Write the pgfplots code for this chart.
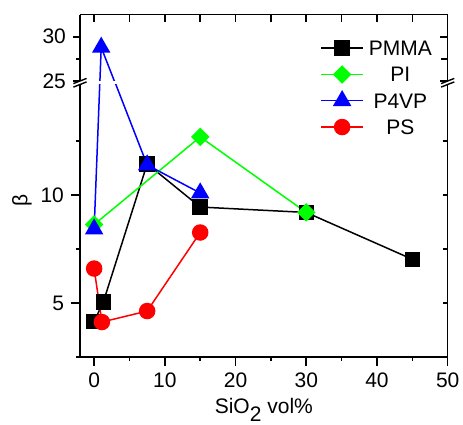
\documentclass[border=0pt]{standalone}
\usepackage{fontspec}
\setmainfont{Liberation Sans}
\usepackage{pgfplots}
\usepackage{pgfplotstable}
\pgfplotsset{compat=1.18}

\definecolor{pgreen}{RGB}{0,255,0}
\definecolor{pblue}{RGB}{0,0,255}
\definecolor{pred}{RGB}{255,0,0}

\pgfplotstableread{
x y
0   4.15
1.3 5.05
7.5 11.45
15  9.45
30  9.2
45  7.03
}\pmma
\pgfplotstableread{
x y
0  8.64
15 12.7
30 9.2
}\pi
\pgfplotstableread{
x y
0   8.43
1   28.8
7.5 11.4
15  10.1
}\pvp
\pgfplotstableread{
x y
0   6.6
1.1 4.12
7.5 4.63
15  8.27
}\ps

\pgfplotsset{
  brk/.style={
    scale only axis, width=183.85pt, xmin=-2, xmax=50,
    axis line style={line width=0.8pt},
    tick style={line width=0.8pt, black},
    major tick length=3.5pt, minor tick length=2pt,
    font=\fontsize{10.5}{12.6}\selectfont,
    /pgf/number format/assume math mode=true,
    % broken y axis: values above 20 are set on a compressed scale from 25 on
    y coord trafo/.code={\pgfmathparse{##1>20 ? 15.313+(##1-25)*0.4113 : ##1}},
    y coord inv trafo/.code={\pgfmathparse{##1>15.2 ? 25+(##1-15.313)/0.4113 : ##1}},
  },
  lowpart/.style={brk, at={(0,0)}, anchor=south west, height=136.25pt, ymin=2.5, ymax=15.13,
    ytick={5,10}, yticklabels={5,10}, minor ytick={2.5,7.5,12.5}},
  uppart/.style={brk, at={(0,138pt)}, anchor=south west, height=33.2pt, ymin=25, ymax=32.5,
    ytick={25,30}, yticklabels={25,30}, minor ytick={27.5}},
  sPMMA/.style={black, line width=0.75pt, mark=square*, mark size=3.5pt, mark options={solid}},
  sPI/.style={pgreen, line width=0.75pt, mark=square*, mark size=2.9pt, mark options={solid, rotate=45}},
  sPVP/.style={pblue, line width=0.75pt, mark=triangle*, mark size=4.6pt, mark options={solid}},
  sPS/.style={pred, line width=0.75pt, mark=*, mark size=3.75pt, mark options={solid}},
}

\begin{document}
\begin{tikzpicture}
% lower part of the broken axis
\begin{axis}[lowpart, name=low,
  axis x line*=bottom, axis y line*=left, tick align=outside,
  xtick={0,10,...,50}, minor xtick={5,15,...,45},
  major tick length=4.5pt,
  xlabel={SiO\raisebox{-0.4em}{2} vol\%},
  ylabel={β},
  every axis x label/.style={at={(axis description cs:0.5,0)}, anchor=base, yshift=-28pt},
  every axis y label/.style={at={(axis description cs:-0.158,0.575)}, anchor=center, rotate=90},
]
\addplot[sPMMA] table {\pmma};
\addplot[sPI] table {\pi};
\addplot[sPVP] table {\pvp};
\addplot[sPS] table {\ps};
\end{axis}
% mirror ticks on the right of the lower part
\begin{axis}[lowpart, axis x line=none, axis y line*=right, tick align=inside,
  xtick=\empty, yticklabels={}, major tick length=2.5pt, minor tick length=2.5pt]
\end{axis}
% upper part of the broken axis
\begin{axis}[uppart,
  axis x line=none, axis y line*=left, tick align=outside, xtick=\empty,
  legend cell align=left,
  legend style={at={(axis description cs:0.6527,0.659)}, anchor=north west,
    draw=none, fill=none, inner sep=0pt, row sep=2.15pt, column sep=2.5pt,
    nodes={inner sep=0pt, text height=9pt, text depth=2pt, anchor=base}},
  legend image code/.code={
    \draw[mark repeat=2, mark phase=2, #1] plot coordinates {(0pt,3.75pt) (10.5pt,3.75pt) (21pt,3.75pt)};
  },
]
\addplot[sPMMA] table {\pmma};
\addplot[sPI] table {\pi};
\addplot[sPVP] table {\pvp};
\addplot[sPS] table {\ps};
\legend{PMMA,PI,P4VP,PS}
\end{axis}
% top and right mirror ticks of the upper part
\begin{axis}[uppart, axis x line*=top, axis y line*=right, tick align=inside,
  xtick={0,10,...,50}, minor xtick={5,15,...,45}, xticklabels={}, yticklabels={},
  major tick length=3.8pt, minor tick length=3.5pt]
\end{axis}
% break marks
\foreach \xx in {0pt,183.85pt}{
  \draw[line width=0.7pt] (\xx-3.3pt,136.25pt-1.3pt) -- (\xx+3.3pt,136.25pt+1.3pt);
  \draw[line width=0.7pt] (\xx-3.3pt,138pt-1.3pt) -- (\xx+3.3pt,138pt+1.3pt);
}
% page margins as in the reference
\pgfresetboundingbox
\path[use as bounding box] (-40pt,-34pt) rectangle (191.5pt,178.5pt);
\end{tikzpicture}
\end{document}
